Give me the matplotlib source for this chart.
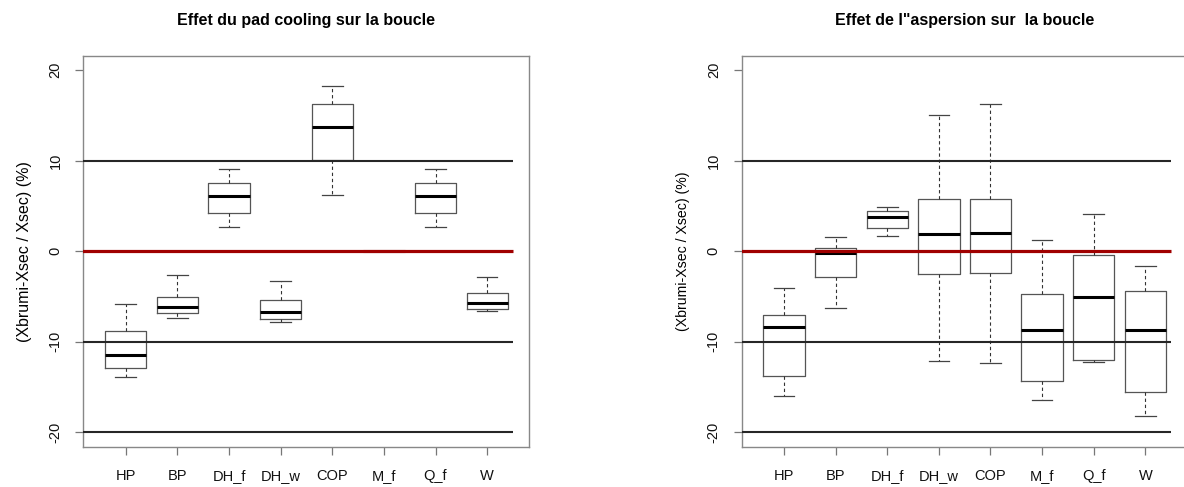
import numpy as np
import matplotlib.pyplot as plt

plt.rcParams['font.family'] = ['Liberation Sans', 'DejaVu Sans']

# ---------------------------------------- DATA ----------------------------------------
cats = ['HP', 'BP', 'DH_f', 'DH_w', 'COP', 'M_f', 'Q_f', 'W']

# pad cooling (left)
pad_lo = [-13.9, -7.37, 2.62, -7.78, 6.19, 0.0, 2.62, -6.56]
pad_q1 = [-12.9, -6.78, 4.24, -7.52, 10.1, 0.0, 4.24, -6.38]
pad_med = [-11.43, -6.12, 6.05, -6.71, 13.71, 0.0, 6.05, -5.75]
pad_q3 = [-8.81, -5.01, 7.56, -5.38, 16.29, 0.0, 7.56, -4.64]
pad_hi = [-5.79, -2.58, 9.07, -3.35, 18.25, 0.0, 9.07, -2.80]

# aspersion (right)
asp_lo = [-16.05, -6.24, 1.66, -12.18, -12.32, -16.42, -12.29, -18.19]
asp_q1 = [-13.76, -2.88, 2.58, -2.55, -2.44, -14.35, -12.07, -15.57]
asp_med = [-8.41, -0.18, 3.80, 1.85, 2.03, -8.75, -5.09, -8.71]
asp_q3 = [-7.08, 0.37, 4.39, 5.72, 5.72, -4.69, -0.44, -4.35]
asp_hi = [-4.10, 1.62, 4.91, 15.02, 16.27, 1.18, 4.10, -1.66]

ref_black = [10, -10, -20]
ref_red = 0

titles = ['Effet du pad cooling sur la boucle', 'Effet de l"aspersion sur  la boucle']
ylab = '(Xbrumi-Xsec / Xsec) (%)'


def make_stats(lo, q1, med, q3, hi):
    return [dict(label=c, whislo=a, q1=b, med=m, q3=d, whishi=e, fliers=[])
            for c, a, b, m, d, e in zip(cats, lo, q1, med, q3, hi)]


def draw(ax, stats, title, ylab_size):
    pos = np.arange(1, len(cats) + 1)
    # reference lines drawn over the boxes (red hides the flat M_f box)
    ax.hlines(ref_black, 0, 8.5, color='#262626', lw=1.5, zorder=3)
    ax.hlines(ref_red, 0, 8.5, color='#a00000', lw=2.3, zorder=3)
    ax.bxp(stats, positions=pos, widths=0.8, showfliers=False,
           boxprops=dict(color='#555555', lw=0.9),
           medianprops=dict(color='black', lw=2.2),
           whiskerprops=dict(color='#333333', lw=0.8, linestyle=(0, (3, 2.5))),
           capprops=dict(color='#444444', lw=0.9),
           capwidths=0.4, zorder=2)
    ax.set_ylim(-21.6, 21.6)
    ax.set_yticks([-20, -10, 0, 10, 20])
    ax.set_yticklabels(['-20', '-10', '0', '10', '20'], rotation=90, va='center')
    ax.set_xticks(pos)
    ax.set_xticklabels(cats)
    ax.tick_params(axis='both', length=6, width=0.9, color='#777777',
                   labelsize=10.5, labelcolor='#111111')
    ax.tick_params(axis='x', pad=10)
    ax.tick_params(axis='y', pad=9)
    for s in ax.spines.values():
        s.set_color('#888888')
        s.set_linewidth(1.0)
    ax.set_title(title, fontsize=11.5, fontweight='bold', pad=22)
    ax.set_ylabel(ylab, fontsize=ylab_size, labelpad=12)


fig = plt.figure(figsize=(11.84, 4.87), dpi=100)
ax1 = fig.add_axes([0.0705, 0.0828, 0.3767, 0.8029])
ax2 = fig.add_axes([0.6264, 0.0828, 0.3767, 0.8029])

draw(ax1, make_stats(pad_lo, pad_q1, pad_med, pad_q3, pad_hi), titles[0], 11.5)
draw(ax2, make_stats(asp_lo, asp_q1, asp_med, asp_q3, asp_hi), titles[1], 10.2)

# R xlim: 0.5..8.5 extended by 4%
ax1.set_xlim(0.18, 8.82)
ax2.set_xlim(0.18, 8.82)

fig.savefig('out.png', dpi=100)
